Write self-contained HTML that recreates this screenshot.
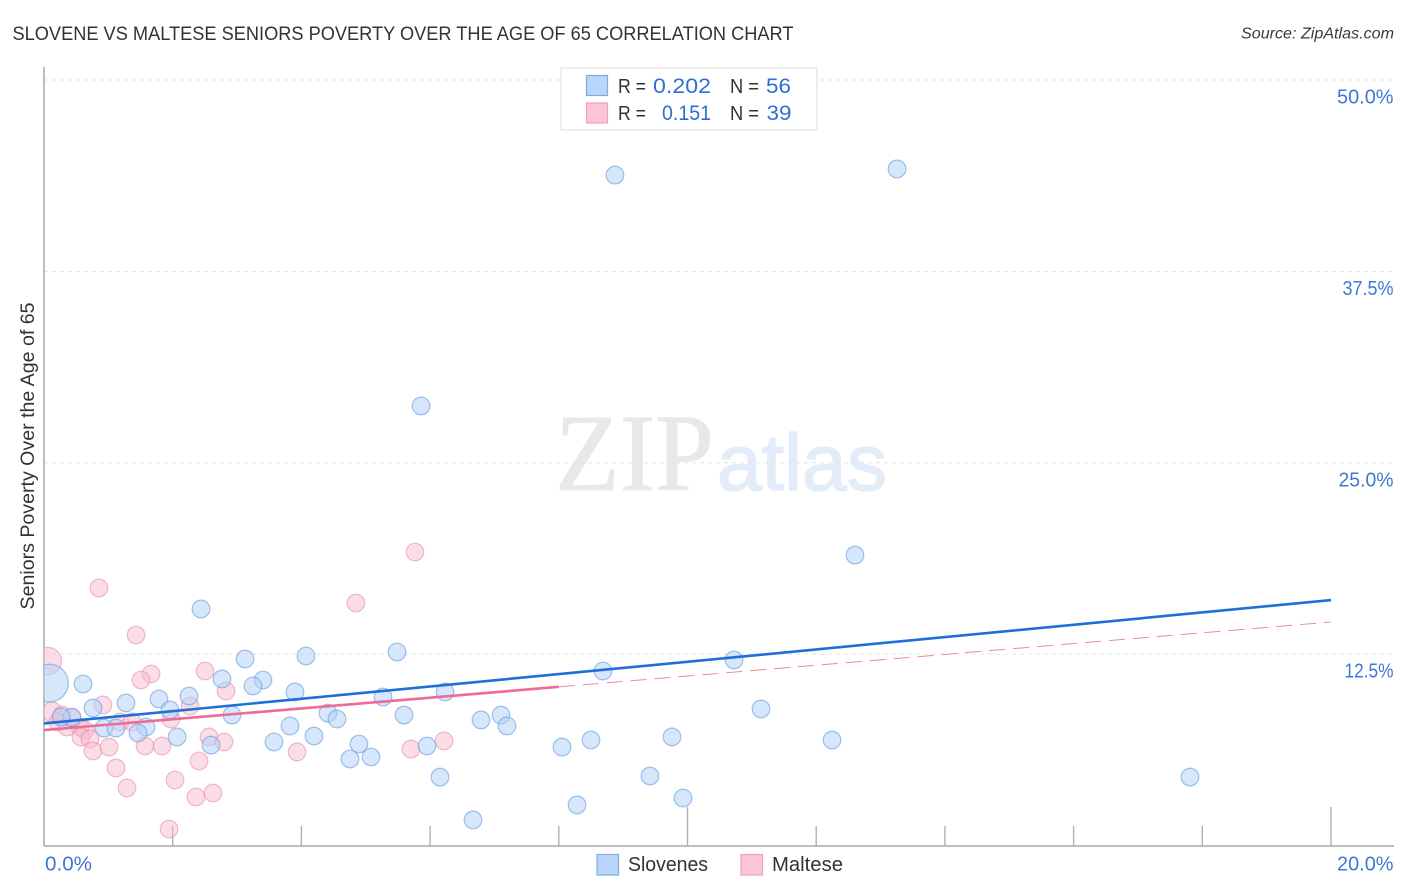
<!DOCTYPE html>
<html lang="en">
<head>
<meta charset="utf-8">
<title>Slovene vs Maltese Seniors Poverty Over the Age of 65 Correlation Chart</title>
<style>
html,body{margin:0;padding:0;background:#fff;}
svg{display:block;font-family:"Liberation Sans",sans-serif;}
</style>
</head>
<body>
<svg id="chart" width="1406" height="892" viewBox="0 0 1406 892" xmlns="http://www.w3.org/2000/svg">
  <defs>
    <clipPath id="plot-clip"><rect x="44" y="60" width="1350" height="786"></rect></clipPath>
  </defs>
  <rect x="0" y="0" width="1406" height="892" fill="#ffffff"></rect>
  <text x="12.5" y="40" font-size="19.5" fill="#333333" textLength="781" lengthAdjust="spacingAndGlyphs">SLOVENE VS MALTESE SENIORS POVERTY OVER THE AGE OF 65 CORRELATION CHART</text>
  <text x="1241" y="38.5" font-size="15.5" font-style="italic" fill="#3a3a3a" textLength="153" lengthAdjust="spacingAndGlyphs">Source: ZipAtlas.com</text>
  <g>
    <text x="555" y="490" font-family="'Liberation Serif',serif" font-size="110" fill="#e8e8e8" stroke="#e8e8e8" stroke-width="0.8" textLength="159" lengthAdjust="spacingAndGlyphs">ZIP</text>
    <text x="717" y="490" font-size="80" fill="#e3edfa" stroke="#e3edfa" stroke-width="1.4" textLength="170" lengthAdjust="spacingAndGlyphs">atlas</text>
  </g>
  <g id="grid"></g>
  <g id="ticks"></g>
  <line x1="44" y1="67" x2="44" y2="846" stroke="#a9a9a9" stroke-width="1.5"></line>
  <line x1="44" y1="846" x2="1394" y2="846" stroke="#a9a9a9" stroke-width="1.5"></line>
  <g id="points" clip-path="url(#plot-clip)"></g>
  <g id="trends"></g>
  <g id="ylabels"></g>
  <g id="xlabels"></g>
  <text transform="translate(34 609.5) rotate(-90)" font-size="19.5" fill="#333333" textLength="307" lengthAdjust="spacingAndGlyphs">Seniors Poverty Over the Age of 65</text>
  <g>
    <rect x="561" y="68" width="256" height="62" fill="#ffffff" stroke="#dddddd" stroke-width="1"></rect>
    <rect x="586.5" y="75.5" width="21" height="20" fill="#b9d5f9" stroke="#7fabe6" stroke-width="1.2"></rect>
    <rect x="586.5" y="103" width="21" height="20" fill="#fcc6d7" stroke="#f0a0bb" stroke-width="1.2"></rect>
    <text x="618" y="93" font-size="20" fill="#333333" textLength="28" lengthAdjust="spacingAndGlyphs">R =</text>
    <text x="653" y="93" font-size="21" fill="#2f6fd3" textLength="58" lengthAdjust="spacingAndGlyphs">0.202</text>
    <text x="730" y="93" font-size="20" fill="#333333" textLength="29" lengthAdjust="spacingAndGlyphs">N =</text>
    <text x="766" y="93" font-size="21" fill="#2f6fd3" textLength="25" lengthAdjust="spacingAndGlyphs">56</text>
    <text x="618" y="120" font-size="20" fill="#333333" textLength="28" lengthAdjust="spacingAndGlyphs">R =</text>
    <text x="662" y="120" font-size="21" fill="#2f6fd3" textLength="49" lengthAdjust="spacingAndGlyphs">0.151</text>
    <text x="730" y="120" font-size="20" fill="#333333" textLength="29" lengthAdjust="spacingAndGlyphs">N =</text>
    <text x="766.5" y="120" font-size="21" fill="#2f6fd3" textLength="25" lengthAdjust="spacingAndGlyphs">39</text>
  </g>
  <g>
    <rect x="597" y="854.5" width="21.5" height="20.5" fill="#b9d5f9" stroke="#7fabe6" stroke-width="1.2"></rect>
    <text x="628" y="871" font-size="20" fill="#333333" textLength="80" lengthAdjust="spacingAndGlyphs">Slovenes</text>
    <rect x="741" y="854.5" width="21.5" height="20.5" fill="#fcc6d7" stroke="#f0a0bb" stroke-width="1.2"></rect>
    <text x="772" y="871" font-size="20" fill="#333333" textLength="71" lengthAdjust="spacingAndGlyphs">Maltese</text>
  </g>
</svg>
<script>
const yTickValues = [12.5, 25, 37.5, 50];
const yTickLabels = ["12.5%", "25.0%", "37.5%", "50.0%"];
const xTickValues = [2, 4, 6, 8, 10, 12, 14, 16, 18, 20];
const xEndValues = [0, 20];
const xEndLabels = ["0.0%", "20.0%"];

const sloveneX = [8.873,13.256,5.859,12.603,2.440,5.486,4.071,3.124,10.723,8.687,2.766,3.403,3.248,0.606,3.900,6.232,2.253,1.787,1.274,5.268,0.761,11.142,1.958,2.922,5.594,0.435,0.264,4.413,4.553,6.791,7.102,3.823,7.195,0.932,1.119,1.585,1.461,2.067,4.196,3.574,2.595,4.895,5.952,8.500,9.759,12.246,8.050,4.755,5.082,6.154,9.417,17.809,9.930,8.283,6.667,0.085];
const sloveneY = [43.79,44.19,28.71,18.97,15.45,12.64,12.38,12.18,12.12,11.40,10.88,10.81,10.42,10.55,10.03,10.03,9.76,9.57,9.31,9.70,8.98,8.92,8.85,8.52,8.52,8.39,8.39,8.65,8.26,8.20,8.52,7.81,7.81,7.67,7.67,7.74,7.35,7.09,7.15,6.76,6.56,6.63,6.50,6.89,7.09,6.89,6.43,5.65,5.78,4.47,4.54,4.47,3.10,2.65,1.67,10.61];
const sloveneWeight = [1,1,1,1,1,1,1,1,1,1,1,1,1,1,1,1,1,1,1,1,1,1,1,1,1,1,1,1,1,1,1,1,1,1,1,1,1,1,1,1,1,1,1,1,1,1,1,1,1,1,1,1,1,1,1,4.6];

const malteseX = [1.430,0.060,1.663,1.507,2.502,2.828,0.917,2.269,0.124,1.974,1.181,1.367,0.280,0.218,0.357,0.559,0.637,0.575,0.715,0.761,1.010,1.570,1.834,2.564,2.797,2.409,3.932,1.119,2.036,1.290,2.362,2.626,1.943,0.855,4.848,5.765,5.703,6.216,0.435];
const malteseY = [13.75,12.05,11.20,10.81,11.40,10.09,9.18,9.11,8.72,8.26,8.07,8.07,8.52,8.07,7.74,7.74,7.54,7.09,6.96,6.17,6.43,6.50,6.50,7.09,6.76,5.52,6.11,5.06,4.28,3.76,3.17,3.43,1.08,16.82,15.84,19.17,6.30,6.83,8.33];
const malteseWeight = [1,2.4,1,1,1,1,1,1,1.3,1,1,1,1,1,1,1,1,1,1,1,1,1,1,1,1,1,1,1,1,1,1,1,1,1,1,1,1,1,1];

const trendXs = [0, 20];
const sloveneTrend = [7.97, 16.03];
const malteseTrend = [7.54, 14.6];
const malteseSolidEndX = 8;

const SVG_NS = "http://www.w3.org/2000/svg";
function xScale(v) { return 44 + v * 64.35; }
function yScale(v) { return 845.5 - v * 15.31; }
function radiusFor(weight) { return 8.8 * Math.sqrt(weight); }
function make(tag, attrs, parent) {
  const el = document.createElementNS(SVG_NS, tag);
  for (const k in attrs) el.setAttribute(k, attrs[k]);
  parent.appendChild(el);
  return el;
}
function interpolate(pairX, pairY, x) {
  return pairY[0] + (pairY[1] - pairY[0]) * (x - pairX[0]) / (pairX[1] - pairX[0]);
}
function labelWidth(text) {
  let w = 56.5;
  if (text.indexOf("1") >= 0) w = 49;
  else if (text.indexOf("7") >= 0) w = 51;
  else if (text.indexOf("25") >= 0) w = 55;
  return w;
}

const gridG = document.getElementById("grid");
const ticksG = document.getElementById("ticks");
const pointsG = document.getElementById("points");
const trendsG = document.getElementById("trends");
const yLabelsG = document.getElementById("ylabels");
const xLabelsG = document.getElementById("xlabels");

yTickValues.forEach(function (v, i) {
  const grid = make("line", { x1: 44, x2: 1394, y1: yScale(v), y2: yScale(v), stroke: "#e3e3e3", "stroke-width": 1, "stroke-dasharray": "4 4" }, gridG);
  
  
  const label = make("text", { x: 1393.5, y: yScale(v) + 23.5, "text-anchor": "end", "font-size": 20, fill: "#3f77d4", textLength: labelWidth(yTickLabels[i]), lengthAdjust: "spacingAndGlyphs" }, yLabelsG);
  label.textContent = yTickLabels[i];
  
  
});

xTickValues.forEach(function (v) {
  const tick = make("line", { x1: xScale(v), x2: xScale(v), y1: 846, y2: v % 10 === 0 ? 807 : 826, stroke: "#b0b0b0", "stroke-width": 1.4 }, ticksG);
  
  
});

xEndValues.forEach(function (v, i) {
  const label = make("text", { x: i === 0 ? xScale(v) + 1 : 1393.5, y: 870.5, "text-anchor": i === 0 ? "start" : "end", "font-size": 20, fill: "#3f77d4", textLength: i === 0 ? 47 : 56.5, lengthAdjust: "spacingAndGlyphs" }, xLabelsG);
  label.textContent = xEndLabels[i];
  
  
});

malteseX.forEach(function (x, i) {
  const dot = make("circle", { cx: xScale(x), cy: yScale(malteseY[i]), r: radiusFor(malteseWeight[i]), fill: "#f8bcd0", "fill-opacity": 0.5, stroke: "#ea8eac", "stroke-opacity": 0.6, "stroke-width": 1.2 }, pointsG);
  
  
});

sloveneX.forEach(function (x, i) {
  const dot = make("circle", { cx: xScale(x), cy: yScale(sloveneY[i]), r: radiusFor(sloveneWeight[i]), fill: "#b4d1f7", "fill-opacity": 0.55, stroke: "#6d9fe2", "stroke-opacity": 0.65, "stroke-width": 1.2 }, pointsG);
  
  
});

const malteseDash = make("line", { x1: xScale(malteseSolidEndX), y1: yScale(interpolate(trendXs, malteseTrend, malteseSolidEndX)), x2: xScale(trendXs[1]), y2: yScale(malteseTrend[1]), stroke: "#e98aa9", "stroke-width": 1, "stroke-dasharray": "16 8" }, trendsG);



const malteseSolid = make("line", { x1: xScale(trendXs[0]), y1: yScale(malteseTrend[0]), x2: xScale(malteseSolidEndX), y2: yScale(interpolate(trendXs, malteseTrend, malteseSolidEndX)), stroke: "#ec6b98", "stroke-width": 2.6 }, trendsG);



const sloveneLine = make("line", { x1: xScale(trendXs[0]), y1: yScale(sloveneTrend[0]), x2: xScale(trendXs[1]), y2: yScale(sloveneTrend[1]), stroke: "#1f6fd9", "stroke-width": 2.6 }, trendsG);


</script>
</body>
</html>
